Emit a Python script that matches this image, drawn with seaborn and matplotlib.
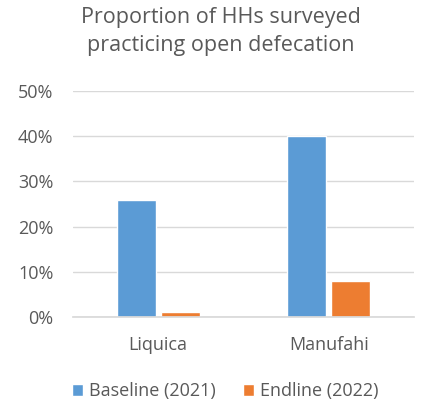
import matplotlib
matplotlib.use("Agg")
import matplotlib.pyplot as plt
import seaborn as sns
import pandas as pd
from matplotlib.ticker import PercentFormatter
from matplotlib.patches import Patch

categories = ["Liquica", "Manufahi"]
series = ["Baseline (2021)", "Endline (2022)"]
baseline = [26, 40]
endline = [1, 8]
yticks = [0, 10, 20, 30, 40, 50]

df = pd.DataFrame({
    "district": categories * 2,
    "period": [series[0]] * 2 + [series[1]] * 2,
    "value": baseline + endline,
})

sns.set_theme(style="white")
plt.rcParams['font.family'] = ['Open Sans', 'DejaVu Sans']
grey = "#595959"
colors = ["#5B9BD5", "#ED7D31"]

fig = plt.figure(figsize=(4.22, 4.03), dpi=100)
ax = fig.add_axes([0.173, 0.2134, 0.808, 0.5606])
sns.barplot(data=df, x="district", y="value", hue="period", palette=colors,
            width=0.52, gap=0.12, ax=ax, legend=False, saturation=1)

ax.set_ylim(0, 50)
ax.set_yticks(yticks)
ax.yaxis.set_major_formatter(PercentFormatter(decimals=0))
ax.grid(axis="y", color="#D9D9D9", linewidth=1)
ax.set_axisbelow(True)
for s in ["top", "right", "left"]:
    ax.spines[s].set_visible(False)
ax.spines["bottom"].set_color("#D9D9D9")
ax.set_xlabel("")
ax.set_ylabel("")
ax.tick_params(axis="both", colors=grey, labelsize=13, length=0)
ax.tick_params(axis="y", pad=14)
ax.tick_params(axis="x", pad=14)

fig.text(0.524, 0.982, "Proportion of HHs surveyed\npracticing open defecation",
         ha="center", va="top", fontsize=15.5, color=grey, linespacing=1.4)

handles = [Patch(facecolor=c, label=l) for c, l in zip(colors, series)]
fig.legend(handles=handles, loc="center", bbox_to_anchor=(0.533, 0.03), ncol=2,
           frameon=False, fontsize=13, labelcolor=grey, handlelength=0.65,
           handleheight=0.65, handletextpad=0.3, columnspacing=1.5)

fig.savefig("out.png", dpi=100)
